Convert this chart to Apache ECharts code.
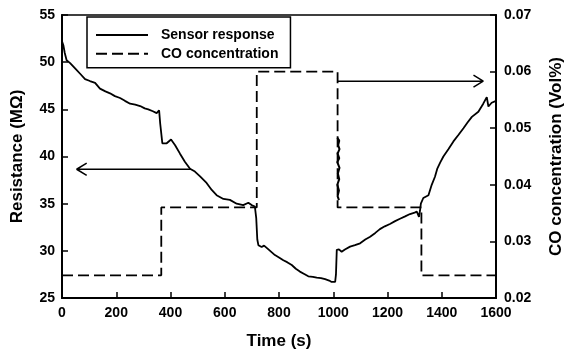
<!DOCTYPE html>
<html>
<head>
<meta charset="utf-8">
<script src="https://cdn.jsdelivr.net/npm/echarts@6/dist/echarts.min.js"></script>
<style>
  html, body { margin: 0; padding: 0; background: #fff; }
  #chart { width: 564px; height: 355px; }
</style>
</head>
<body>
<div id="chart"></div>
<script>
// Sensor resistance over time (s, MΩ)
const sensorTime = [0,5,10,17,30,50,66,85,103,122,140,160,177,195,214,232,251,270,288,305,318,335,349,358,362,370,386,402,417,435,453,472,490,509,533,552,570,595,619,644,668,687,699,711,716,720,724,736,745,761,785,800,816,830,847,862,877,893,908,925,939,955,970,985,994,1007,1010,1013,1021,1031,1043,1062,1080,1099,1118,1136,1155,1172,1190,1209,1228,1246,1265,1283,1300,1308,1316,1320,1323,1332,1351,1363,1375,1384,1395,1406,1425,1443,1462,1480,1495,1511,1535,1553,1566,1572,1584,1600];
const sensorValue = [52.2,51.8,51.0,50.2,49.9,49.3,48.8,48.2,48.0,47.8,47.2,46.9,46.7,46.4,46.2,45.9,45.6,45.5,45.35,45.1,45.0,44.8,44.6,44.9,43.5,41.4,41.4,41.8,41.2,40.3,39.45,38.7,38.4,37.9,37.2,36.45,35.9,35.5,35.4,35.0,34.85,35.1,34.85,34.7,33.5,31.2,30.6,30.4,30.55,30.15,29.55,29.3,29.0,28.8,28.5,28.1,27.8,27.55,27.3,27.25,27.15,27.1,27.0,26.85,26.7,26.7,27.5,30.1,30.15,29.9,30.15,30.45,30.6,30.8,31.2,31.5,31.9,32.3,32.6,32.85,33.15,33.4,33.65,33.9,34.05,34.15,33.6,34.3,35.0,35.6,35.9,37.0,37.85,38.75,39.4,40.0,40.8,41.6,42.3,43.0,43.6,44.2,44.75,45.6,46.3,45.3,45.7,45.9];

// CO concentration steps (s, Vol%)
const coTime  = [0,366,366,718,718,1016,1016,1325,1325,1600];
const coValue = [0.024,0.024,0.036,0.036,0.060,0.060,0.036,0.036,0.024,0.024];

// Noisy readout during the fall from 0.060 to 0.036
const coNoiseTime  = [1015,1022,1018,1023,1016,1022,1015,1023,1017,1022,1015,1021,1016,1021];
const coNoiseValue = [0.0483,0.0478,0.0470,0.0463,0.0455,0.0447,0.0440,0.0430,0.0420,0.0410,0.0400,0.0390,0.0380,0.0373];

// Axis arrows: [shaft start, tip], head arm offsets
const leftArrow  = { from: [475, 38.65], to: [54, 38.65], armX: 37, armY: 0.64 };
const rightArrow = { from: [1016, 0.0583], to: [1553, 0.0583], armX: -36, armY: 0.00106 };

const xTicks = { min: 0, max: 1600, interval: 200 };
const leftTicks = { min: 25, max: 55, interval: 5 };
const rightTicks = { min: 0.02, max: 0.07, interval: 0.01 };

const zip = (a, b) => a.map((v, i) => [v, b[i]]);
const arrowData = a => [
  a.from, a.to, '-',
  [a.to[0] + a.armX, a.to[1] + a.armY], a.to, [a.to[0] + a.armX, a.to[1] - a.armY]
].map(p => p === '-' ? ['-', '-'] : p);

const FONT = '"Liberation Sans", Arial, Helvetica, sans-serif';
const axisCommon = {
  axisLine: { show: true, lineStyle: { color: '#000', width: 2 } },
  axisTick: { show: true, inside: true, length: 6, lineStyle: { color: '#000', width: 1.5 } },
  axisLabel: { color: '#000', fontFamily: FONT, fontWeight: 'bold', fontSize: 14 },
  splitLine: { show: false },
  nameTextStyle: { color: '#000', fontFamily: FONT, fontWeight: 'bold', fontSize: 17 }
};

const chart = echarts.init(document.getElementById('chart'), null, { renderer: 'canvas' });
chart.setOption({
  animation: false,
  backgroundColor: '#fff',
  grid: {
    left: 62, right: 68, top: 15, bottom: 57,
    outerBoundsMode: 'none', containLabel: false,
    show: true, borderColor: '#000', borderWidth: 1.5
  },
  legend: {
    data: ['Sensor response', 'CO concentration'],
    orient: 'vertical',
    left: 87, top: 17,
    itemWidth: 52, itemHeight: 14, itemGap: 4.7,
    padding: [11, 12, 7, 8],
    borderColor: '#000', borderWidth: 1.5,
    itemStyle: { opacity: 0 },
    textStyle: { color: '#000', fontFamily: FONT, fontWeight: 'bold', fontSize: 14, padding: [0, 0, 0, 8] }
  },
  xAxis: Object.assign({}, axisCommon, {
    type: 'value', min: xTicks.min, max: xTicks.max, interval: xTicks.interval,
    name: 'Time (s)', nameLocation: 'middle', nameGap: 35,
    axisLabel: Object.assign({}, axisCommon.axisLabel, { margin: 8, formatter: v => String(v) })
  }),
  yAxis: [
    Object.assign({}, axisCommon, {
      type: 'value', min: leftTicks.min, max: leftTicks.max, interval: leftTicks.interval,
      name: 'Resistance (MΩ)', nameLocation: 'middle', nameGap: 36,
      axisLabel: Object.assign({}, axisCommon.axisLabel, { margin: 7 })
    }),
    Object.assign({}, axisCommon, {
      type: 'value', position: 'right', min: rightTicks.min, max: rightTicks.max, interval: rightTicks.interval,
      name: 'CO concentration (Vol%)', nameLocation: 'middle', nameGap: 52,
      axisLabel: Object.assign({}, axisCommon.axisLabel, { margin: 8, formatter: v => v.toFixed(2) })
    })
  ],
  series: [
    {
      name: 'Sensor response', type: 'line', yAxisIndex: 0, symbol: 'none',
      data: zip(sensorTime, sensorValue),
      lineStyle: { color: '#000', width: 1.8 }, itemStyle: { color: '#000' }
    },
    {
      name: 'CO concentration', type: 'line', yAxisIndex: 1, symbol: 'none',
      data: zip(coTime, coValue),
      lineStyle: { color: '#000', width: 1.8, type: [11, 5] }, itemStyle: { color: '#000' }
    },
    {
      type: 'line', yAxisIndex: 1, symbol: 'none',
      data: zip(coNoiseTime, coNoiseValue),
      lineStyle: { color: '#000', width: 2 }
    },
    {
      type: 'line', yAxisIndex: 0, symbol: 'none', connectNulls: false,
      data: arrowData(leftArrow),
      lineStyle: { color: '#000', width: 1.5 }
    },
    {
      type: 'line', yAxisIndex: 1, symbol: 'none', connectNulls: false,
      data: arrowData(rightArrow),
      lineStyle: { color: '#000', width: 1.5 }
    }
  ]
});
</script>
</body>
</html>
